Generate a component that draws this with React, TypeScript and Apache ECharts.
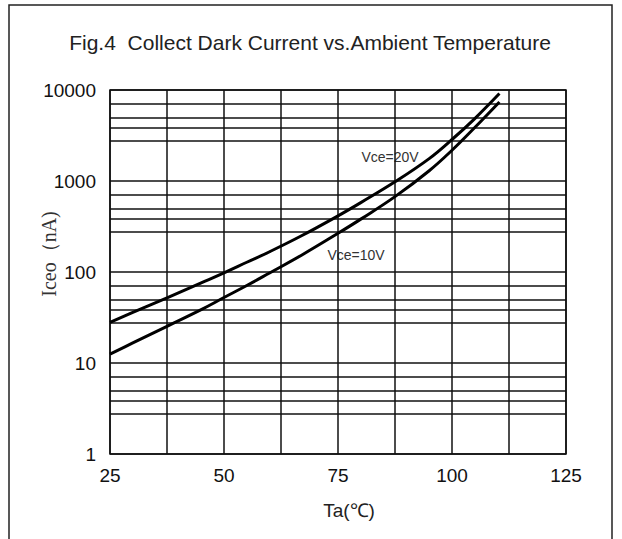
import React, { useEffect, useRef } from "react";
import * as echarts from "echarts";

const temps = [25, 30, 37.5, 45, 50, 55, 60, 67, 75, 80, 87.5, 95, 100, 105, 110.4];
const iceoVce20 = [28, 36, 52, 76, 98, 128, 167, 250, 414, 579, 980, 1762, 2858, 4853, 9140];
const iceoVce10 = [12.5, 16.6, 25.3, 38.6, 52.4, 71, 97.6, 153, 266, 381, 673, 1297, 2178, 3873, 7396];
const decades = [1, 10, 100, 1000];
const minorFactors = [2.8, 3.8, 4.9, 7];
const yTickLabels = ["1", "10", "100", "1000", "10000"];
const xTickLabels = ["25", "50", "75", "100", "125"];

export default function App() {
  const ref = useRef<HTMLDivElement>(null);
  useEffect(() => {
    if (!ref.current) return;
    const chart = echarts.init(ref.current, null, { renderer: "svg" });
    const minorLines: { yAxis: number }[] = [];
    decades.forEach((d) => minorFactors.forEach((f) => minorLines.push({ yAxis: d * f })));
    const pairs = (ys: number[]) => temps.map((t, i) => [t, ys[i]]);
    chart.setOption({
      animation: false,
      backgroundColor: "#fff",
      grid: {
        left: 110,
        top: 90,
        width: 456,
        height: 364,
        show: true,
        borderColor: "#111",
        borderWidth: 1.5,
        backgroundColor: "transparent",
      },
      xAxis: {
        type: "value",
        min: 25,
        max: 125,
        interval: 12.5,
        axisLine: { show: false },
        axisTick: { show: false },
        splitLine: { show: true, lineStyle: { color: "#111", width: 1.5 } },
        axisLabel: {
          margin: 12,
          fontSize: 19,
          color: "#111",
          fontFamily: "Liberation Sans, Arial, sans-serif",
          formatter: (v: number) => {
            const idx = xTickLabels.indexOf(String(Math.round(v)));
            return Math.abs(v - Math.round(v)) < 1e-6 && idx >= 0 ? xTickLabels[idx] : "";
          },
        },
      },
      yAxis: {
        type: "log",
        logBase: 10,
        min: 1,
        max: 10000,
        axisLine: { show: false },
        axisTick: { show: false },
        splitLine: { show: true, lineStyle: { color: "#111", width: 1.5 } },
        axisLabel: {
          margin: 14,
          fontSize: 19,
          color: "#111",
          fontFamily: "Liberation Sans, Arial, sans-serif",
          formatter: (v: number) => {
            const e = Math.round(Math.log10(v));
            return yTickLabels[e] ?? "";
          },
        },
      },
      series: [
        {
          name: "Vce=20V",
          type: "line",
          smooth: 0.4,
          showSymbol: false,
          symbol: "none",
          lineStyle: { color: "#000", width: 3 },
          data: pairs(iceoVce20),
          z: 5,
          markLine: {
            silent: true,
            symbol: "none",
            label: { show: false },
            lineStyle: { color: "#111", width: 1.5, type: "solid" },
            data: minorLines,
            z: 1,
          },
        },
        {
          name: "Vce=10V",
          type: "line",
          smooth: 0.4,
          showSymbol: false,
          symbol: "none",
          lineStyle: { color: "#000", width: 3 },
          data: pairs(iceoVce10),
          z: 5,
        },
      ],
      graphic: [
        {
          type: "rect",
          shape: { x: 9, y: 5, width: 603, height: 545 },
          style: { fill: "none", stroke: "#222", lineWidth: 1.5 },
          silent: true,
        },
        {
          type: "text",
          x: 310,
          y: 42,
          style: {
            text: "Fig.4  Collect Dark Current vs.Ambient Temperature",
            font: "21px 'Liberation Sans', Arial, sans-serif",
            fill: "#222",
            align: "center",
            verticalAlign: "middle",
          },
        },
        {
          type: "text",
          x: 49,
          y: 254,
          rotation: Math.PI / 2,
          style: {
            text: "Iceo（nA)",
            font: "20px 'Liberation Serif', 'Times New Roman', serif",
            fill: "#333",
            align: "center",
            verticalAlign: "middle",
          },
        },
        {
          type: "text",
          x: 349,
          y: 510,
          style: {
            text: "Ta(℃)",
            font: "19px 'Liberation Sans', Arial, sans-serif",
            fill: "#222",
            align: "center",
            verticalAlign: "middle",
          },
        },
        {
          type: "text",
          x: 390,
          y: 157,
          style: {
            text: "Vce=20V",
            font: "14px 'Liberation Sans', Arial, sans-serif",
            fill: "#333",
            align: "center",
            verticalAlign: "middle",
          },
        },
        {
          type: "text",
          x: 356,
          y: 255,
          style: {
            text: "Vce=10V",
            font: "14px 'Liberation Sans', Arial, sans-serif",
            fill: "#333",
            align: "center",
            verticalAlign: "middle",
          },
        },
      ],
    });
    return () => chart.dispose();
  }, []);
  return (
    <div
      ref={ref}
      style={{ position: "absolute", left: 0, top: 0, width: 622, height: 539, background: "#fff" }}
    />
  );
}
